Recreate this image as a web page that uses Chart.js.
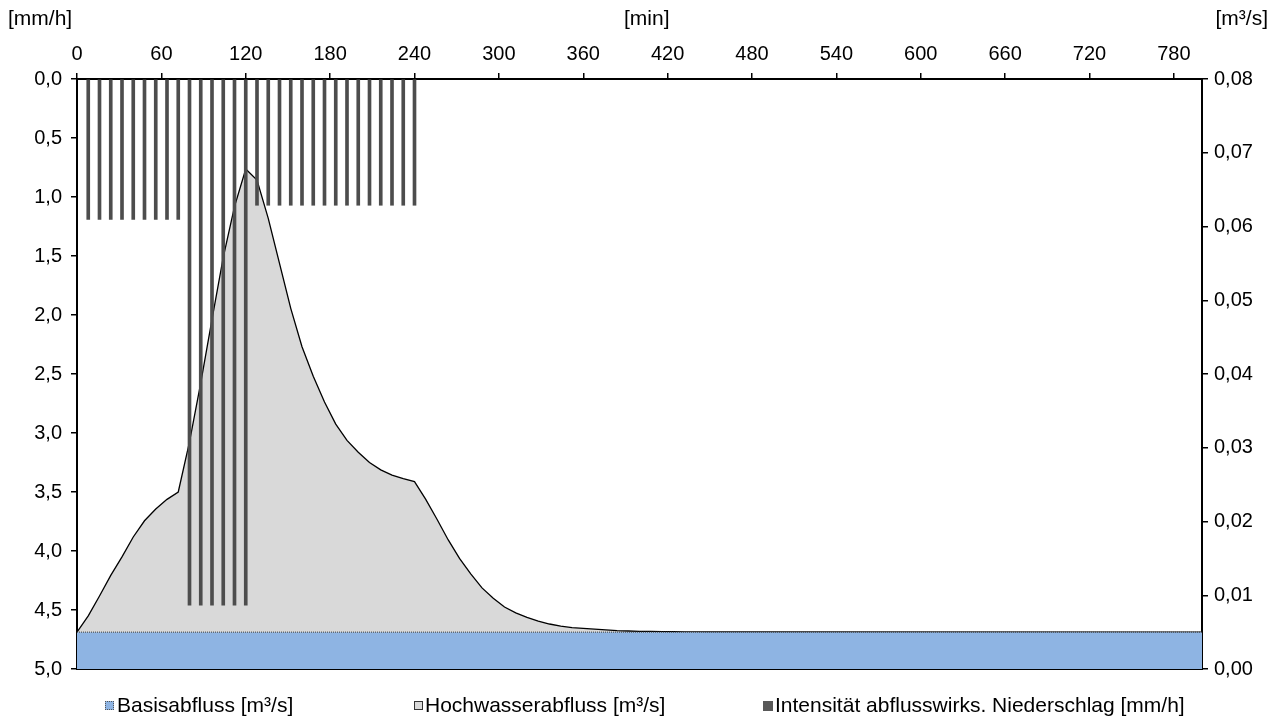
<!DOCTYPE html>
<html>
<head>
<meta charset="utf-8">
<script src="https://cdn.jsdelivr.net/npm/chart.js@4"></script>
<style>
  body { margin: 0; background: #fff; }
  #wrap { position: relative; width: 1279px; height: 721px; font-family: "Liberation Sans", Arial, sans-serif; font-size: 21px; color: #000; }
  .lbl { position: absolute; line-height: 24px; white-space: nowrap; }
  .sw { position: absolute; width: 9px; height: 9px; box-sizing: border-box; }
</style>
</head>
<body>
<div id="wrap">
  <canvas id="chart" width="1279" height="721"></canvas>
  <div class="lbl" style="left:8px;top:6px">[mm/h]</div>
  <div class="lbl" style="left:624px;top:6px">[min]</div>
  <div class="lbl" style="right:11px;top:6px">[m³/s]</div>

  <div class="sw" style="left:105px;top:701px;background:#8eb4e3;border:1px dotted #555"></div>
  <div class="lbl" style="left:117px;top:693px">Basisabfluss [m³/s]</div>
  <div class="sw" style="left:414px;top:701px;background:#d9d9d9;border:1px solid #333"></div>
  <div class="lbl" style="left:425px;top:693px">Hochwasserabfluss [m³/s]</div>
  <div class="sw" style="left:763px;top:701px;width:10px;height:10px;background:#595959"></div>
  <div class="lbl" style="left:775px;top:693px">Intensität abflusswirks. Niederschlag [mm/h]</div>
</div>
<script>
// Zeit [min]
var times = [0, 8, 16, 24, 32, 40, 48, 56, 64, 72, 80, 88, 96, 104, 112, 120, 128, 136, 144, 152,
    160, 168, 176, 184, 192, 200, 208, 216, 224, 232, 240, 248, 256, 264, 272, 280, 288, 296, 304, 312,
    320, 328, 336, 344, 352, 360, 368, 376, 384, 392, 400, 408, 416, 424, 432, 440, 448, 800];

// Hochwasserabfluss [m3/s] (über Basisabfluss)
var flood = [0, 0.0022, 0.0049, 0.0077, 0.0102, 0.0129, 0.0151, 0.0167, 0.0180, 0.0190,
    0.0258, 0.0338, 0.0424, 0.0508, 0.0577, 0.0628, 0.0613, 0.0561, 0.0500, 0.0439,
    0.0387, 0.0347, 0.0312, 0.0282, 0.0260, 0.0244, 0.0230, 0.0220, 0.0213, 0.0208,
    0.0204, 0.0180, 0.0153, 0.0125, 0.0100, 0.0079, 0.0060, 0.0046, 0.0034, 0.0026,
    0.0020, 0.0015, 0.0011, 0.0008, 0.0006, 0.0005, 0.0004, 0.0003, 0.0002, 0.00015,
    0.0001, 0.0001, 0.00007, 0.00005, 0.00004, 0.00003, 0.00002, 0];

// Basisabfluss [m3/s]
var baseFlow = 0.005;

// Niederschlag [mm/h]
var rainTimes = [8, 16, 24, 32, 40, 48, 56, 64, 72, 80, 88, 96, 104, 112, 120,
    128, 136, 144, 152, 160, 168, 176, 184, 192, 200, 208, 216, 224, 232, 240];
var rain = [1.19, 1.19, 1.19, 1.19, 1.19, 1.19, 1.19, 1.19, 1.19,
    4.46, 4.46, 4.46, 4.46, 4.46, 4.46,
    1.07, 1.07, 1.07, 1.07, 1.07, 1.07, 1.07, 1.07, 1.07, 1.07, 1.07, 1.07, 1.07, 1.07, 1.07];

// Achsenbeschriftung oben
var xTicks = [0, 60, 120, 180, 240, 300, 360, 420, 480, 540, 600, 660, 720, 780];

var comma = function (v, d) { return Number(v).toFixed(d).replace(".", ","); };

Chart.defaults.font.family = '"Liberation Sans", Arial, sans-serif';
Chart.defaults.font.size = 20;
Chart.defaults.color = "#000";

var ctx = document.getElementById("chart").getContext("2d");

new Chart(ctx, {
    type: "line",
    data: {
        datasets: [{
            type: "bar",
            label: "Intensität abflusswirks. Niederschlag [mm/h]",
            data: rainTimes.map(function (t, i) { return { x: t, y: rain[i] }; }),
            xAxisID: "x",
            yAxisID: "y",
            backgroundColor: "#4d4d4d",
            barThickness: 3,
            order: 0
        }, {
            label: "Basisabfluss [m³/s]",
            data: [{ x: 0, y: baseFlow }, { x: 800, y: baseFlow }],
            xAxisID: "x",
            yAxisID: "y2",
            fill: "origin",
            backgroundColor: "#8eb4e3",
            borderColor: "#3a3a3a",
            borderWidth: 1,
            borderDash: [1, 1],
            pointRadius: 0,
            order: 1
        }, {
            label: "Hochwasserabfluss [m³/s]",
            data: times.map(function (t, i) { return { x: t, y: baseFlow + flood[i] }; }),
            xAxisID: "x",
            yAxisID: "y2",
            fill: "origin",
            backgroundColor: "#d9d9d9",
            borderColor: "#000",
            borderWidth: 1.3,
            pointRadius: 0,
            tension: 0,
            order: 2
        }]
    },
    options: {
        responsive: false,
        animation: false,
        layout: { padding: 0 },
        plugins: {
            legend: { display: false },
            tooltip: { enabled: false }
        },
        scales: {
            x: {
                type: "linear",
                position: "top",
                min: 0,
                max: 800,
                offset: false,
                afterBuildTicks: function (s) {
                    s.ticks = xTicks.map(function (v) { return { value: v }; });
                },
                ticks: {
                    autoSkip: false,
                    maxRotation: 0,
                    padding: 7
                },
                grid: { drawOnChartArea: false, offset: false, tickLength: 6, color: "#000", lineWidth: 1.5 },
                border: { color: "#000", width: 2 },
                afterFit: function (s) { s.height = 79; }
            },
            xb: {
                type: "linear",
                position: "bottom",
                min: 0,
                max: 800,
                ticks: { display: false },
                grid: { display: false },
                border: { color: "#000", width: 2 },
                afterFit: function (s) { s.height = 52; }
            },
            y: {
                position: "left",
                reverse: true,
                min: 0,
                max: 5,
                ticks: {
                    stepSize: 0.5,
                    padding: 9,
                    callback: function (v) { return comma(v, 1); }
                },
                grid: { drawOnChartArea: false, tickLength: 6, color: "#000", lineWidth: 1.5 },
                border: { color: "#000", width: 2 },
                afterFit: function (s) { s.width = 77; }
            },
            y2: {
                position: "right",
                min: 0,
                max: 0.08,
                ticks: {
                    stepSize: 0.01,
                    padding: 6,
                    callback: function (v) { return comma(v, 2); }
                },
                grid: { drawOnChartArea: false, tickLength: 6, color: "#000", lineWidth: 1.5 },
                border: { color: "#000", width: 2 },
                afterFit: function (s) { s.width = 77; }
            }
        }
    }
});
</script>
</body>
</html>
